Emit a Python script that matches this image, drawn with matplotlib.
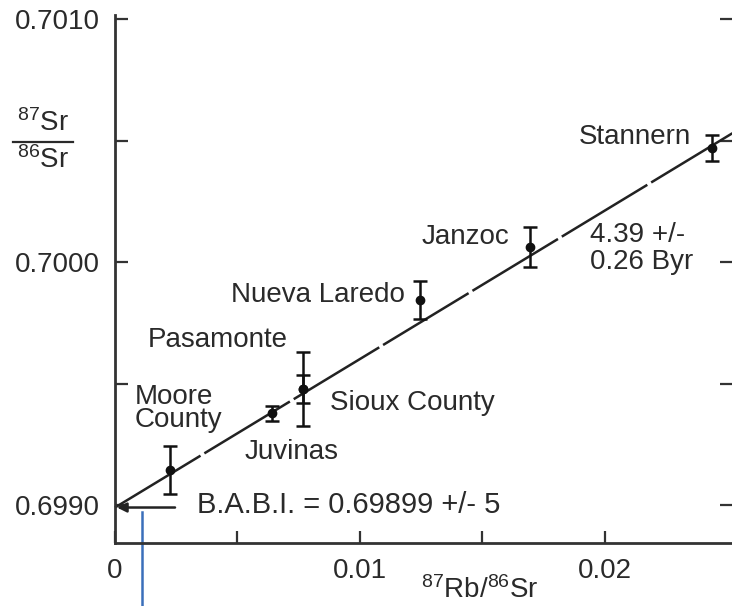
import matplotlib
matplotlib.use("Agg")
import matplotlib.pyplot as plt
from matplotlib.lines import Line2D

plt.rcParams['font.family'] = ['Liberation Sans', 'DejaVu Sans']
plt.rcParams['mathtext.fontset'] = 'custom'
plt.rcParams['mathtext.rm'] = 'Liberation Sans'
plt.rcParams['mathtext.it'] = 'Liberation Sans:italic'

# ---- data ----
meteorites = ["Moore County", "Juvinas", "Pasamonte", "Sioux County",
              "Nueva Laredo", "Janzoc", "Stannern"]
rb_sr = [0.00224, 0.00641, 0.00767, 0.00767, 0.01245, 0.01694, 0.02437]
sr_sr = [0.699144, 0.699378, 0.699477, 0.699477, 0.699844, 0.700062, 0.700469]
sr_err = [0.000100, 0.000030, 0.000152, 0.000058, 0.000080, 0.000082, 0.000053]

isochron_x = [0.0, 0.0252]
isochron_y = [0.69899, 0.70053]

x_ticks = [0.0, 0.01, 0.02]
x_tick_labels = ["0", "0.01", "0.02"]
x_minor = [0.005, 0.015]
y_ticks = [0.6990, 0.7000, 0.7010]
y_tick_labels = ["0.6990", "0.7000", "0.7010"]
y_minor = [0.6995, 0.7005]

babi_text = "B.A.B.I. = 0.69899 +/- 5"
age_text = "4.39 +/-\n0.26 Byr"

# ---- figure ----
W, H = 732, 606
fig = plt.figure(figsize=(W / 100, H / 100), dpi=100)
ax = fig.add_axes([115 / W, 1 - 543 / H, (732 - 115) / W, (543 - 15) / H])
ax.set_xlim(0, 0.025184)
ax.set_ylim(0.698844, 0.7010165)

ink = '#2a2a2a'
for s in ['top', 'right']:
    ax.spines[s].set_visible(False)
for s in ['left', 'bottom']:
    ax.spines[s].set_linewidth(2.0)
    ax.spines[s].set_color('#333333')

ax.set_xticks(x_ticks)
ax.set_xticklabels(x_tick_labels)
ax.set_xticks(x_minor, minor=True)
ax.set_yticks(y_ticks)
ax.set_yticklabels(y_tick_labels)
ax.set_yticks(y_minor, minor=True)
ax.tick_params(which='both', direction='in', length=9, width=1.6, color='#333333',
               labelsize=20, labelcolor=ink, right=True)
ax.tick_params(axis='y', which='both', pad=11)
ax.tick_params(axis='x', which='both', pad=11)

# isochron line
ax.plot(isochron_x, isochron_y, color='#222222', lw=1.8,
        linestyle=(0, (40, 1.8)), clip_on=False, zorder=2)

# data points with error bars
ax.errorbar(rb_sr, sr_sr, yerr=sr_err, fmt='o', color='#111111', ms=6,
            elinewidth=1.8, capsize=5, capthick=1.8, zorder=3)

fs = 20
ax.text(0.02122, 0.7005144, "Stannern", fontsize=fs, color=ink, ha='center', va='center')
ax.text(0.014286, 0.7001029, "Janzoc", fontsize=fs, color=ink, ha='center', va='center')
ax.text(0.008286, 0.6998642, "Nueva Laredo", fontsize=fs, color=ink, ha='center', va='center')
ax.text(0.004204, 0.6996790, "Pasamonte", fontsize=fs, color=ink, ha='center', va='center')
ax.text(0.000816, 0.699399, "Moore\nCounty", fontsize=fs, color=ink, ha='left', va='center',
        linespacing=0.85)
ax.text(0.007224, 0.699218, "Juvinas", fontsize=fs, color=ink, ha='center', va='center')
ax.text(0.012122, 0.699420, "Sioux County", fontsize=fs, color=ink, ha='center', va='center')
ax.text(0.019388, 0.7000576, age_text, fontsize=fs, color=ink, ha='left', va='center',
        linespacing=1.05)
ax.text(0.003347, 0.6990, babi_text, fontsize=21, color=ink, ha='left', va='center')

ax.annotate("", xy=(0.00008, 0.69899), xytext=(0.00245, 0.69899),
            arrowprops=dict(arrowstyle='-|>', color='#222222', lw=1.8,
                            mutation_scale=14, shrinkA=0, shrinkB=0),
            annotation_clip=False)

# blue vertical marker below the axis
ax.plot([0.0011, 0.0011], [0.698971, 0.69858], color='#3a6fba', lw=1.8, clip_on=False)

# y label as stacked fraction
fig.text(43 / W, 1 - 123 / H, r"$^{87}$Sr", fontsize=fs, color=ink, ha='center', va='center')
fig.text(43 / W, 1 - 160 / H, r"$^{86}$Sr", fontsize=fs, color=ink, ha='center', va='center')
fig.add_artist(Line2D([13 / W, 73 / W], [1 - 142 / H, 1 - 142 / H], color=ink, lw=1.6,
                      transform=fig.transFigure))

# x label
fig.text(480 / W, 1 - 590 / H, r"$^{87}$Rb/$^{86}$Sr", fontsize=fs, color=ink,
         ha='center', va='center')

fig.savefig("out.png", dpi=100, facecolor='white')
